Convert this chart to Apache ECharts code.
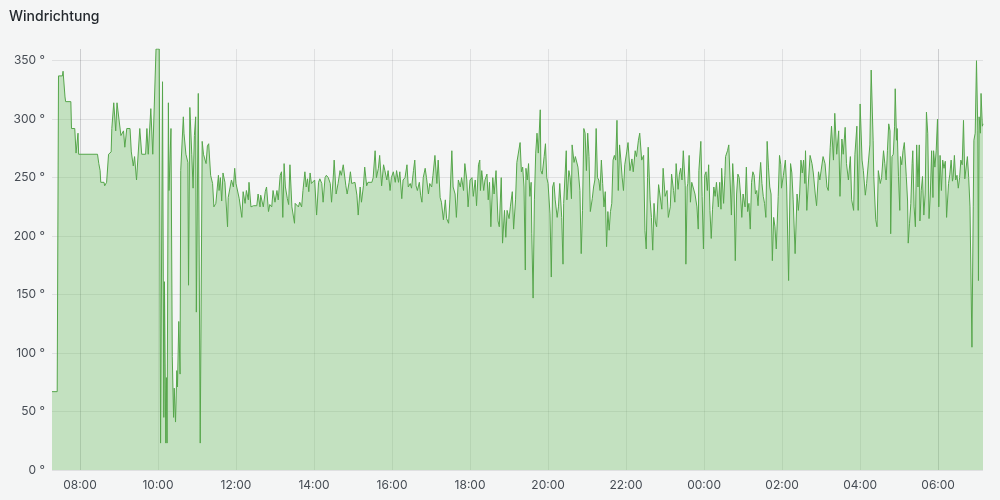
<!DOCTYPE html>
<html>
<head>
<meta charset="utf-8">
<script src="https://cdn.jsdelivr.net/npm/echarts@6/dist/echarts.min.js"></script>
<style>
  html, body { margin: 0; padding: 0; background: #f4f5f5; }
  #chart { width: 1000px; height: 500px; }
</style>
</head>
<body>
<div id="chart"></div>
<script>
// Minuten relativ zu 08:00 (Starttag)
const windMinutes = [
  -43, -35, -33, -27, -26, -23, -22, -14, -13, -8, -6, -3, -2, 27, 29, 31, 32, 37, 38, 41,
  44, 48, 49, 52, 55, 57, 60, 62, 63, 67, 69, 72, 77, 79, 82, 84, 87, 92, 95, 101,
  103, 105, 107, 109, 112, 115, 117, 122, 124, 127, 129, 130, 132, 133, 134, 136, 137, 140, 142, 144,
  145, 147, 149, 150, 152, 154, 155, 159, 160, 163, 166, 167, 169, 172, 174, 176, 178, 179, 182, 185,
  188, 190, 193, 194, 196, 198, 201, 204, 206, 209, 213, 214, 216, 218, 220, 223, 227, 228, 231, 233,
  236, 238, 240, 243, 245, 249, 251, 254, 256, 259, 260, 263, 267, 272, 274, 277, 278, 282, 285, 287,
  290, 292, 295, 297, 300, 303, 305, 308, 310, 312, 314, 316, 319, 321, 323, 326, 328, 330, 331, 333,
  336, 338, 341, 343, 346, 348, 350, 352, 354, 356, 359, 361, 364, 367, 369, 372, 374, 377, 379, 382,
  385, 387, 390, 391, 394, 397, 400, 402, 405, 407, 409, 411, 414, 416, 418, 420, 423, 426, 428, 431,
  433, 436, 438, 441, 443, 446, 449, 451, 454, 456, 459, 461, 464, 467, 469, 472, 474, 477, 479, 482,
  485, 487, 490, 492, 495, 497, 500, 503, 505, 508, 510, 513, 515, 517, 519, 522, 524, 526, 528, 531,
  533, 536, 538, 541, 543, 546, 549, 551, 554, 556, 559, 562, 564, 567, 569, 572, 574, 577, 579, 582,
  585, 587, 590, 592, 595, 597, 600, 603, 605, 608, 610, 613, 615, 616, 618, 621, 623, 626, 628, 630,
  632, 635, 637, 640, 643, 645, 648, 650, 653, 655, 657, 660, 662, 665, 667, 670, 672, 674, 677, 679,
  681, 683, 685, 686, 688, 690, 692, 694, 695, 697, 699, 701, 703, 705, 708, 709, 711, 714, 716, 718,
  720, 723, 725, 727, 729, 731, 734, 736, 738, 741, 743, 744, 746, 748, 749, 752, 754, 756, 757, 760,
  762, 764, 766, 769, 771, 773, 775, 777, 779, 781, 783, 785, 788, 790, 792, 794, 796, 798, 800, 802,
  804, 806, 808, 810, 812, 814, 816, 818, 820, 822, 824, 826, 828, 830, 832, 834, 836, 838, 841, 843,
  846, 849, 851, 854, 856, 859, 861, 864, 867, 869, 871, 873, 874, 877, 879, 881, 883, 885, 887, 890,
  892, 895, 897, 900, 903, 905, 908, 910, 913, 915, 917, 920, 922, 924, 926, 928, 931, 932, 934, 935,
  937, 939, 941, 944, 946, 949, 951, 952, 955, 957, 959, 961, 963, 965, 967, 969, 971, 973, 975, 977,
  979, 982, 984, 986, 987, 990, 992, 993, 996, 998, 1000, 1002, 1004, 1006, 1008, 1010, 1012, 1014, 1016, 1018,
  1020, 1023, 1025, 1027, 1029, 1031, 1033, 1035, 1037, 1039, 1041, 1043, 1045, 1047, 1049, 1051, 1053, 1055, 1057, 1059,
  1061, 1063, 1065, 1067, 1069, 1071, 1074, 1076, 1078, 1079, 1082, 1085, 1087, 1090, 1092, 1093, 1095, 1097, 1100, 1103,
  1105, 1107, 1109, 1111, 1113, 1115, 1116, 1118, 1120, 1123, 1126, 1128, 1131, 1133, 1136, 1138, 1141, 1143, 1146, 1149,
  1151, 1154, 1156, 1159, 1161, 1164, 1167, 1169, 1172, 1174, 1177, 1179, 1182, 1185, 1187, 1190, 1192, 1195, 1197, 1200,
  1203, 1205, 1208, 1210, 1213, 1215, 1217, 1220, 1221, 1224, 1226, 1228, 1231, 1233, 1236, 1238, 1240, 1242, 1244, 1246,
  1247, 1249, 1251, 1253, 1254, 1256, 1257, 1259, 1261, 1262, 1264, 1266, 1268, 1271, 1273, 1274, 1276, 1278, 1280, 1281,
  1283, 1285, 1287, 1289, 1291, 1292, 1294, 1296, 1298, 1300, 1302, 1304, 1306, 1308, 1310, 1312, 1313, 1315, 1317, 1319,
  1321, 1323, 1325, 1327, 1329, 1331, 1333, 1336, 1338, 1340, 1342, 1343, 1345, 1347, 1349, 1351, 1353, 1355, 1357, 1359,
  1361, 1363, 1365, 1367, 1369, 1371, 1372, 1374, 1375, 1377, 1379, 1381, 1382, 1383, 1385, 1386, 1388, 1389
];

// Windrichtung in Grad
const windDeg = [
  67, 67, 337, 337, 341, 319, 315, 315, 292, 292, 271, 288, 270, 270, 262, 256, 246, 246, 243, 246,
  270, 272, 292, 314, 290, 314, 300, 299, 286, 290, 276, 292, 292, 272, 260, 268, 248, 292, 270, 270,
  292, 270, 270, 309, 270, 270, 360, 360, 23, 332, 45, 161, 23, 79, 23, 314, 239, 292, 97, 45,
  70, 41, 85, 71, 127, 82, 256, 302, 288, 270, 263, 158, 310, 270, 241, 286, 302, 135, 322, 23,
  281, 270, 270, 262, 277, 279, 252, 245, 225, 228, 252, 239, 250, 230, 254, 246, 208, 233, 234, 248,
  242, 258, 245, 246, 232, 216, 238, 228, 239, 231, 246, 225, 226, 226, 236, 225, 235, 225, 238, 242,
  221, 227, 225, 239, 229, 239, 231, 252, 255, 216, 262, 242, 232, 227, 261, 225, 224, 211, 228, 229,
  225, 229, 225, 239, 255, 242, 249, 238, 254, 245, 246, 248, 218, 246, 249, 245, 229, 250, 252, 250,
  245, 229, 254, 265, 236, 245, 256, 252, 261, 262, 243, 236, 246, 255, 245, 246, 246, 235, 218, 242,
  229, 243, 259, 243, 246, 245, 246, 250, 273, 250, 258, 269, 243, 261, 256, 248, 256, 239, 250, 255,
  246, 256, 246, 255, 232, 248, 250, 261, 242, 245, 241, 256, 265, 243, 239, 246, 235, 229, 250, 258,
  250, 236, 245, 242, 252, 269, 245, 265, 233, 229, 214, 231, 215, 211, 231, 273, 242, 236, 216, 248,
  242, 250, 239, 262, 248, 225, 248, 250, 234, 248, 226, 261, 265, 239, 256, 239, 248, 253, 231, 246,
  208, 250, 236, 256, 213, 208, 250, 194, 222, 199, 222, 215, 225, 238, 206, 231, 263, 263, 280, 255,
  259, 242, 171, 258, 248, 262, 234, 246, 202, 147, 231, 271, 288, 271, 308, 256, 253, 268, 279, 250,
  245, 219, 165, 242, 246, 231, 216, 225, 245, 216, 176, 228, 229, 273, 231, 256, 250, 232, 278, 263,
  268, 269, 259, 239, 185, 222, 292, 288, 256, 288, 268, 221, 232, 242, 248, 292, 250, 248, 239, 265,
  245, 225, 238, 191, 221, 205, 221, 228, 265, 269, 265, 299, 239, 278, 265, 250, 239, 261, 272, 280,
  256, 266, 255, 273, 268, 282, 288, 265, 269, 205, 189, 250, 276, 231, 216, 188, 228, 212, 208, 244,
  245, 223, 258, 234, 239, 216, 225, 253, 239, 229, 262, 240, 253, 258, 248, 273, 243, 176, 242, 245,
  269, 229, 246, 246, 236, 225, 206, 256, 281, 234, 189, 252, 255, 239, 261, 222, 198, 223, 242, 234,
  246, 225, 246, 223, 258, 228, 252, 268, 273, 278, 248, 218, 262, 242, 179, 236, 253, 250, 236, 216,
  236, 225, 259, 221, 228, 206, 246, 255, 252, 236, 239, 226, 248, 263, 245, 234, 228, 216, 281, 259,
  242, 236, 179, 216, 208, 189, 234, 269, 261, 241, 252, 265, 242, 162, 236, 262, 254, 231, 185, 236,
  222, 236, 265, 254, 265, 245, 273, 222, 242, 269, 262, 254, 236, 226, 255, 248, 248, 268, 262, 242,
  239, 276, 294, 265, 305, 270, 290, 234, 283, 270, 293, 262, 248, 268, 231, 222, 270, 294, 222, 313,
  265, 256, 235, 245, 265, 278, 342, 282, 251, 214, 208, 256, 245, 250, 273, 262, 248, 273, 296, 290,
  202, 268, 270, 294, 326, 282, 292, 251, 222, 268, 261, 273, 280, 251, 230, 194, 211, 228, 262, 273,
  225, 208, 278, 242, 278, 213, 239, 251, 218, 236, 306, 288, 215, 236, 273, 233, 273, 259, 273, 300,
  225, 269, 239, 265, 258, 264, 216, 245, 253, 265, 247, 250, 269, 248, 252, 241, 250, 265, 261, 299,
  249, 250, 268, 250, 225, 225, 105, 225, 282, 288, 350, 290, 162, 302, 288, 322, 294, 296
];

// Achsenbeschriftung: alle 2 Stunden ab 08:00 (Stunden relativ zu 08:00)
const xTickHours = [0, 2, 4, 6, 8, 10, 12, 14, 16, 18, 20, 22];
const yTicks = { min: 0, max: 360, step: 50 };

const baseTime = new Date(2024, 2, 10, 8, 0, 0).getTime();
const MIN = 60 * 1000;
const HOUR = 60 * MIN;

const seriesData = windMinutes.map((m, i) => [baseTime + m * MIN, windDeg[i]]);
const xTickValues = xTickHours.map((h) => baseTime + h * HOUR);

const gridLine = { color: 'rgba(36,41,46,0.1)', width: 1 };

const chart = echarts.init(document.getElementById('chart'), null, { renderer: 'canvas' });

chart.setOption({
  backgroundColor: '#f4f5f5',
  animation: false,
  textStyle: { fontFamily: 'Inter, "Noto Sans", sans-serif' },
  title: {
    text: 'Windrichtung',
    left: 4,
    top: 5,
    textStyle: { fontSize: 14, fontWeight: 500, color: '#24292e', fontFamily: 'Inter' }
  },
  grid: { left: 52, right: 17, top: 49, bottom: 30 },
  xAxis: {
    type: 'time',
    min: baseTime + windMinutes[0] * MIN,
    max: baseTime + windMinutes[windMinutes.length - 1] * MIN,
    axisLine: { show: false },
    axisTick: { show: false, customValues: xTickValues },
    axisLabel: {
      customValues: xTickValues,
      formatter: '{HH}:{mm}',
      color: '#464c54',
      fontSize: 12,
      margin: 9
    },
    splitLine: { show: true, lineStyle: gridLine }
  },
  yAxis: {
    type: 'value',
    min: yTicks.min,
    max: yTicks.max,
    interval: yTicks.step,
    axisLine: { show: false },
    axisTick: { show: false },
    axisLabel: {
      formatter: function (v) { return v > 350 ? '' : v + ' °'; },
      color: '#464c54',
      fontSize: 12,
      margin: 7
    },
    splitLine: { show: true, showMaxLine: false, lineStyle: gridLine }
  },
  series: [
    {
      type: 'line',
      data: seriesData,
      showSymbol: false,
      lineStyle: { color: '#56a64b', width: 1 },
      itemStyle: { color: '#56a64b' },
      areaStyle: { color: '#73bf69', opacity: 0.38 }
    }
  ]
});
</script>
</body>
</html>
